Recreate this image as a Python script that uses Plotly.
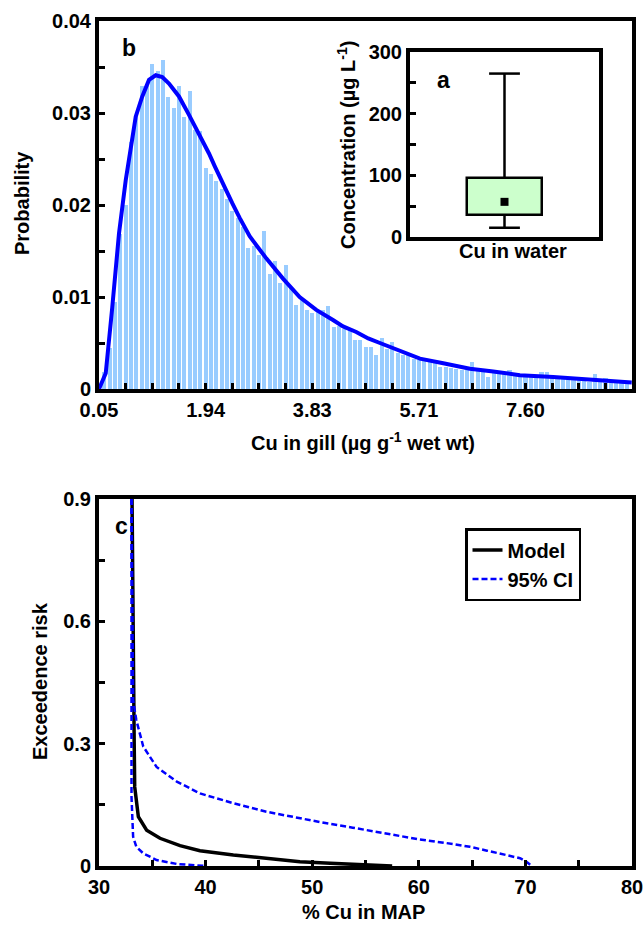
import numpy as np
import plotly.graph_objects as go

# ---------------- Panel b: Cu in gill histogram + fitted density ----------------
gill_bin_start = 0.05
gill_bin_width = 0.0944
gill_prob = [
    0.0018, 0.0045, 0.0095, 0.0169, 0.0200, 0.0269, 0.0297, 0.0329, 0.0329, 0.0353,
    0.0346, 0.0358, 0.0317, 0.0305, 0.0329, 0.0296, 0.0324, 0.0281, 0.0280, 0.0240,
    0.0234, 0.0226, 0.0217, 0.0207, 0.0194, 0.0186, 0.0176, 0.0153, 0.0155, 0.0146,
    0.0172, 0.0125, 0.0139, 0.0115, 0.0135, 0.0111, 0.0091, 0.0098, 0.0086, 0.0083,
    0.0084, 0.0086, 0.0090, 0.0067, 0.0068, 0.0065, 0.0066, 0.0053, 0.0053, 0.0046,
    0.0046, 0.0037, 0.0055, 0.0044, 0.0051, 0.0039, 0.0037, 0.0037, 0.0033, 0.0032,
    0.0030, 0.0029, 0.0029, 0.0024, 0.0024, 0.0023, 0.0022, 0.0021, 0.0021, 0.0029,
    0.0023, 0.0019, 0.0013, 0.0017, 0.0017, 0.0019, 0.0021, 0.0017, 0.0016, 0.0015,
    0.0014, 0.0015, 0.0018, 0.0019, 0.0013, 0.0012, 0.0012, 0.0011, 0.0010, 0.0010,
    0.0009, 0.0008, 0.0016, 0.0008, 0.0012, 0.0008, 0.0009, 0.0007, 0.0007,
]
gill_x = gill_bin_start + gill_bin_width * np.arange(1, len(gill_prob) + 1)

fit_x = [0.05, 0.169, 0.285, 0.404, 0.523, 0.639, 0.70, 0.816, 0.935, 1.054,
         1.17, 1.289, 1.466, 1.643, 1.82, 1.997, 2.10, 2.232, 2.409, 2.54,
         2.717, 3.011, 3.307, 3.602, 3.896, 4.192, 4.37, 4.604, 4.816, 5.023,
         5.377, 5.731, 6.144, 6.616, 7.029, 7.501, 8.091, 8.563, 8.976, 9.418, 9.48]
fit_y = [0.0, 0.0017, 0.0089, 0.0169, 0.0227, 0.0271, 0.0296, 0.0318, 0.0336, 0.0341,
         0.0339, 0.0332, 0.0318, 0.0298, 0.0278, 0.0256, 0.0242, 0.0224, 0.0202, 0.0186,
         0.0166, 0.0142, 0.0120, 0.0100, 0.0086, 0.0075, 0.0068, 0.0062, 0.0055, 0.0050,
         0.0041, 0.0033, 0.0028, 0.0022, 0.0019, 0.0015, 0.0013, 0.0011, 0.0009, 0.0007, 0.0007]

gill_tick_labels = ["0.05", "1.94", "3.83", "5.71", "7.60"]
prob_tick_labels = ["0", "0.01", "0.02", "0.03", "0.04"]

# ---------------- Panel a: Cu in water box summary ----------------
water_label = "Cu in water"
water_low, water_q1, water_mid, water_q3, water_high = 15, 36, 57, 95, 265
conc_tick_labels = ["0", "100", "200", "300"]

# ---------------- Panel c: exceedence risk ----------------
model_x = [33.1, 33.2, 33.3, 33.35, 33.69, 34.47, 35.72, 37.6, 39.47, 42.6,
           45.7, 48.85, 51.7, 54.5, 57.5]
model_y = [0.9, 0.4, 0.304, 0.194, 0.121, 0.088, 0.068, 0.050, 0.0376, 0.027,
           0.019, 0.0105, 0.0065, 0.003, 0.0]
ci_hi_x = [33.05, 33.1, 33.15, 33.2, 33.5, 34.15, 35.4, 37.3, 39.47, 42.6, 45.7,
           48.85, 51.5, 53.8, 56.9, 60.1, 63.2, 64.8, 66.4, 67.9, 69.5, 70.1, 70.6]
ci_hi_y = [0.9, 0.6, 0.55, 0.407, 0.358, 0.293, 0.243, 0.207, 0.178, 0.154, 0.133,
           0.117, 0.104, 0.094, 0.080, 0.065, 0.054, 0.047, 0.0376, 0.029, 0.019, 0.0105, 0.0]
ci_lo_x = [33.05, 33.05, 33.2, 33.5, 34.15, 35.4, 37.3, 39.5, 40.0]
ci_lo_y = [0.9, 0.17, 0.072, 0.047, 0.031, 0.0147, 0.005, 0.001, 0.0]
pct_tick_labels = ["30", "40", "50", "60", "70", "80"]
risk_tick_labels = ["0", "0.3", "0.6", "0.9"]

W, H = 644, 927
FONT = "Liberation Sans, Arial, sans-serif"
TICKFONT = dict(family=FONT, size=20, color="black", weight="bold")

# panel boxes in pixels: left, right, top, bottom
BOX_B = (99, 632, 21, 389)
BOX_A = (410, 599, 52, 237)
BOX_C = (99, 632, 499, 866)


def px(x):
    return x / W


def py(y):
    return 1 - y / H


def dom_x(b):
    return [px(b[0]), px(b[1])]


def dom_y(b):
    return [py(b[3]), py(b[2])]


def linear_ticks(labels, minor_div):
    """Evenly spaced ticks running through the given labels, with minor subdivisions."""
    first, last = float(labels[0]), float(labels[-1])
    step = (last - first) / (len(labels) - 1)
    return dict(tickmode="linear", tick0=first, dtick=step,
                minor=dict(ticks="inside", ticklen=6, tickwidth=3, tickcolor="black",
                           tick0=first, dtick=step / minor_div))


fig = go.Figure()

fig.add_trace(go.Bar(x=gill_x, y=gill_prob, width=gill_bin_width * 0.8,
                     marker=dict(color="#99CCFF", line=dict(width=0)),
                     xaxis="x", yaxis="y", showlegend=False))
fig.add_trace(go.Scatter(x=fit_x, y=fit_y, mode="lines",
                         line=dict(color="#0000FF", width=4),
                         xaxis="x", yaxis="y", showlegend=False))

# box summary: whiskers, box, whisker caps, central marker
fig.add_trace(go.Scatter(x=[water_label, water_label, None, water_label, water_label],
                         y=[water_q3, water_high, None, water_q1, water_low],
                         mode="lines", line=dict(color="black", width=2.5),
                         xaxis="x2", yaxis="y2", showlegend=False))
fig.add_trace(go.Bar(x=[water_label], y=[water_q3 - water_q1], base=[water_q1], width=0.4,
                     marker=dict(color="#CCFFCC", line=dict(color="black", width=2.5)),
                     xaxis="x2", yaxis="y2", showlegend=False))
fig.add_trace(go.Scatter(x=[water_label, water_label], y=[water_high, water_low],
                         mode="markers",
                         marker=dict(symbol="line-ew", size=22,
                                     line=dict(color="black", width=2.5)),
                         xaxis="x2", yaxis="y2", showlegend=False))
fig.add_trace(go.Scatter(x=[water_label], y=[water_mid], mode="markers",
                         marker=dict(symbol="square", size=8, color="black"),
                         xaxis="x2", yaxis="y2", showlegend=False))

fig.add_trace(go.Scatter(x=model_x, y=model_y, mode="lines", name="Model",
                         line=dict(color="black", width=3.5),
                         xaxis="x3", yaxis="y3"))
fig.add_trace(go.Scatter(x=ci_hi_x, y=ci_hi_y, mode="lines", name="95% CI",
                         line=dict(color="#0000FF", width=2.5, dash="6px,3px"),
                         xaxis="x3", yaxis="y3"))
fig.add_trace(go.Scatter(x=ci_lo_x, y=ci_lo_y, mode="lines", name="95% CI",
                         line=dict(color="#0000FF", width=2.5, dash="6px,3px"),
                         showlegend=False, xaxis="x3", yaxis="y3"))

axis_common = dict(showline=True, linecolor="black", linewidth=4, mirror=True,
                   ticks="inside", ticklen=6, tickwidth=3, tickcolor="black",
                   showgrid=False, zeroline=False, tickfont=TICKFONT,
                   automargin=False)

# bare axes that only draw a box outline around a panel
frame_axis = dict(showline=True, linecolor="black", linewidth=4, mirror=True,
                  ticks="", showticklabels=False, showgrid=False, zeroline=False,
                  range=[0, 1], fixedrange=True)

fig.update_layout(
    width=W, height=H,
    margin=dict(l=0, r=0, t=0, b=0, pad=0, autoexpand=False),
    paper_bgcolor="white", plot_bgcolor="rgba(0,0,0,0)",
    bargap=0,
    xaxis=dict(domain=dom_x(BOX_B), range=[0.05, 9.485], anchor="y",
               tickformat=".2f", **linear_ticks(gill_tick_labels, 4), **axis_common),
    yaxis=dict(domain=dom_y(BOX_B), range=[0, 0.04], anchor="x",
               **linear_ticks(prob_tick_labels, 2), **axis_common),
    xaxis2=dict(domain=dom_x(BOX_A), anchor="y2", type="category",
                range=[-0.5, 0.5], showticklabels=False,
                showline=True, linecolor="black", linewidth=4, mirror=True,
                ticks="", showgrid=False, zeroline=False),
    yaxis2=dict(domain=dom_y(BOX_A), range=[0, 300], anchor="x2",
                **linear_ticks(conc_tick_labels, 2), **axis_common),
    xaxis3=dict(domain=dom_x(BOX_C), range=[30, 80], anchor="y3",
                **linear_ticks(pct_tick_labels, 2), **axis_common),
    yaxis3=dict(domain=dom_y(BOX_C), range=[0, 0.9], anchor="x3",
                **linear_ticks(risk_tick_labels, 2), **axis_common),
    xaxis4=dict(domain=dom_x(BOX_B), anchor="y4", **frame_axis),
    yaxis4=dict(domain=dom_y(BOX_B), anchor="x4", **frame_axis),
    xaxis5=dict(domain=dom_x(BOX_C), anchor="y5", **frame_axis),
    yaxis5=dict(domain=dom_y(BOX_C), anchor="x5", **frame_axis),
    legend=dict(x=px(465), y=py(528), xanchor="left", yanchor="top",
                bgcolor="white", bordercolor="black", borderwidth=2.5,
                font=dict(family=FONT, size=20, color="black", weight="bold")),
)


def label(text, x, y, size=20, angle=0):
    fig.add_annotation(text="<b>%s</b>" % text, x=px(x), y=py(y),
                       xref="paper", yref="paper",
                       showarrow=False, xanchor="center", yanchor="middle",
                       textangle=angle,
                       font=dict(family=FONT, size=size, color="black"))


label("b", 129, 48, size=23)
label("a", 443, 80, size=23)
label("c", 121, 526, size=23)
label("Probability", 22, 203, angle=-90)
label("Cu in gill (µg g<sup>-1</sup> wet wt)", 363, 441)
label("Concentration (µg L<sup>-1</sup>)", 347, 145, angle=-90)
label(water_label, 513, 251)
label("Exceedence risk", 40, 681, angle=-90)
label("% Cu in MAP", 363, 912)

fig.write_html("out.html")
